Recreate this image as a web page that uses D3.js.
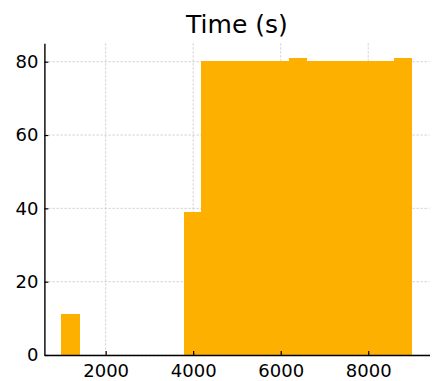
<!DOCTYPE html>
<html lang="en">
<head>
	<meta charset="utf-8">
	<script src="https://d3js.org/d3.v7.min.js"></script>
	<style>
		body { margin: 0; background: #fff; }
		text { font-family: "DejaVu Sans", sans-serif; fill: #000; }
	</style>
</head>
<body>
	<script type="text/javascript">

		// histogram bins (edges) and counts
		var binStarts = [1000, 1400, 1800, 2200, 2600, 3000, 3400, 3800, 4200, 4600, 5000, 5400, 5800, 6200, 6600, 7000, 7400, 7800, 8200, 8600];
		var binEnds   = [1400, 1800, 2200, 2600, 3000, 3400, 3800, 4200, 4600, 5000, 5400, 5800, 6200, 6600, 7000, 7400, 7800, 8200, 8600, 9000];
		var counts    = [11, 0, 0, 0, 0, 0, 0, 39, 80, 80, 80, 80, 80, 81, 80, 80, 80, 80, 80, 81];

		var xTicks = [2000, 4000, 6000, 8000];
		var yTicks = [0, 20, 40, 60, 80];
		var chartTitle = "Time (s)";

		var svgWidth = 433;
		var svgHeight = 381;
		// note: "top" is taken by window.top, so use plot* names
		var plotLeft = 44.4, plotRight = 429.5, plotTop = 43.2, plotBottom = 355;

		var svg = d3.select("body")
			.append("svg")
			.attr("width", svgWidth)
			.attr("height", svgHeight);

		var x = d3.scaleLinear()
			.domain([600, 9400])
			.range([plotLeft, plotRight]);

		var y = d3.scaleLinear()
			.domain([0, 85.05])
			.range([plotBottom, plotTop]);

		//grid
		svg.append("g")
			.selectAll("line")
			.data(xTicks)
			.enter()
			.append("line")
				.attr("x1", function(d) {return x(d);})
				.attr("x2", function(d) {return x(d);})
				.attr("y1", plotTop)
				.attr("y2", plotBottom)
				.attr("stroke", "#cfcfcf")
				.attr("stroke-width", 0.9)
				.attr("stroke-dasharray", "2.5,1.5");

		svg.append("g")
			.selectAll("line")
			.data(yTicks)
			.enter()
			.append("line")
				.attr("x1", plotLeft)
				.attr("x2", plotRight)
				.attr("y1", function(d) {return y(d);})
				.attr("y2", function(d) {return y(d);})
				.attr("stroke", "#cfcfcf")
				.attr("stroke-width", 0.9)
				.attr("stroke-dasharray", "2.5,1.5");

		//bars
		var bins = counts.map(function(c, i) {return {x0: binStarts[i], x1: binEnds[i], n: c};});

		svg.append("g")
			.attr("shape-rendering", "crispEdges")
			.selectAll("rect")
			.data(bins.filter(function(d) {return d.n > 0;}))
			.enter()
			.append("rect")
				.attr("x", function(d) {return x(d.x0);})
				.attr("width", function(d) {return x(d.x1) - x(d.x0);})
				.attr("y", function(d) {return y(d.n);})
				.attr("height", function(d) {return y(0) - y(d.n);})
				.attr("fill", "#fdb000")
				.attr("stroke", "#fdb000")
				.attr("stroke-width", 1);

		//axes, ticks pointing in
		var xAxis = d3.axisBottom(x)
			.tickValues(xTicks)
			.tickFormat(d3.format("d"))
			.tickSizeInner(-4)
			.tickSizeOuter(0)
			.tickPadding(9);

		var yAxis = d3.axisLeft(y)
			.tickValues(yTicks)
			.tickFormat(d3.format("d"))
			.tickSizeInner(-4)
			.tickSizeOuter(0)
			.tickPadding(6);

		var gx = svg.append("g")
			.attr("transform", "translate(0," + plotBottom + ")")
			.call(xAxis);
		gx.select(".domain").attr("stroke", "#000").attr("stroke-width", 1.4);
		gx.selectAll(".tick line").attr("stroke", "#000").attr("stroke-width", 1.2);
		gx.selectAll(".tick text")
			.style("font-family", "DejaVu Sans")
			.style("font-size", "18px");

		var gy = svg.append("g")
			.attr("transform", "translate(" + plotLeft + ",0)")
			.call(yAxis);
		gy.select(".domain").attr("stroke", "#000").attr("stroke-width", 1.4);
		gy.selectAll(".tick line").attr("stroke", "#000").attr("stroke-width", 1.2);
		gy.selectAll(".tick text")
			.style("font-family", "DejaVu Sans")
			.style("font-size", "18px");

		//title
		svg.append("text")
			.attr("x", (plotLeft + plotRight) / 2)
			.attr("y", 33)
			.attr("text-anchor", "middle")
			.style("font-size", "25px")
			.text(chartTitle);

	</script>
</body>
</html>
